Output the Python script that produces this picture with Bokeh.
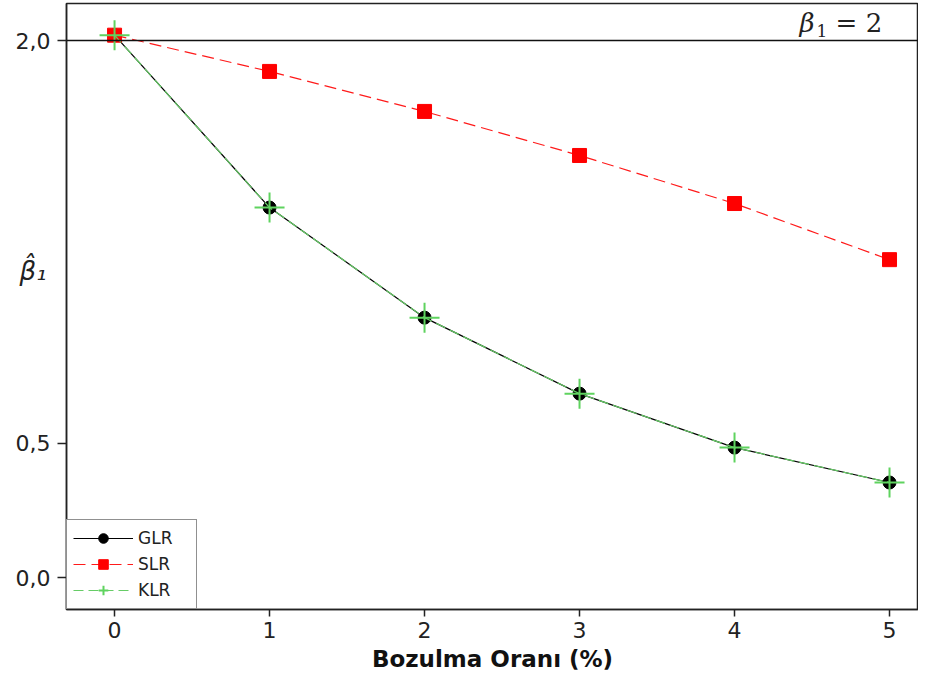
from bokeh.plotting import figure
from bokeh.models import FixedTicker, Span, Label, Range1d, Legend, LegendItem
from bokeh.embed import file_html
from bokeh.resources import INLINE

# ---- data ----
rates = [0, 1, 2, 3, 4, 5]
glr = [2.02, 1.378, 0.968, 0.685, 0.484, 0.354]
slr = [2.02, 1.885, 1.736, 1.572, 1.393, 1.184]
klr = [2.02, 1.378, 0.968, 0.685, 0.484, 0.354]
y_ticks = [0.0, 0.5, 2.0]
y_tick_labels = ["0,0", "0,5", "2,0"]
x_ticks = [0, 1, 2, 3, 4, 5]
true_beta = 2.0
x_title = "Bozulma Oranı (%)"
y_title = "β\u0302\u2081"

p = figure(width=918, height=683, output_backend="svg", toolbar_location=None,
           x_range=Range1d(-0.31, 5.187), y_range=Range1d(-0.119, 2.138),
           min_border_left=66, min_border_right=0, min_border_top=3, min_border_bottom=74)
p.grid.visible = False
p.outline_line_color = "#222222"
p.outline_line_width = 1.5
p.background_fill_color = "white"
p.border_fill_color = "white"

# axes
for ax in (p.xaxis[0], p.yaxis[0]):
    ax.axis_line_color = "#222222"
    ax.axis_line_width = 1.5
    ax.major_tick_line_color = "#222222"
    ax.major_tick_line_width = 1.5
    ax.major_tick_in = 0
    ax.minor_tick_line_color = None
    ax.major_label_text_font = "DejaVu Sans"
    ax.major_label_text_font_size = "22px"
    ax.major_label_text_color = "#222222"

p.xaxis.ticker = FixedTicker(ticks=x_ticks)
p.xaxis.major_tick_out = 7
p.xaxis.major_label_standoff = 5
p.xaxis.axis_label = x_title
p.xaxis.axis_label_text_font = "DejaVu Sans"
p.xaxis.axis_label_text_font_style = "bold"
p.xaxis.axis_label_text_font_size = "23px"
p.xaxis.axis_label_text_color = "#111111"
p.xaxis.axis_label_standoff = 5

p.yaxis.ticker = FixedTicker(ticks=y_ticks)
p.yaxis.major_label_overrides = {t: l for t, l in zip(y_ticks, y_tick_labels)}
p.yaxis.major_tick_out = 9
p.yaxis.major_label_standoff = 7
p.yaxis.axis_label = y_title + "\n\n"
p.yaxis.axis_label_orientation = "horizontal"
p.yaxis.axis_label_standoff = -34
p.yaxis.axis_label_text_font = "DejaVu Sans"
p.yaxis.axis_label_text_font_style = "italic"
p.yaxis.axis_label_text_font_size = "26px"
p.yaxis.axis_label_text_color = "#222222"

# reference line at true beta
p.add_layout(Span(location=true_beta, dimension="width", line_color="#111111", line_width=1.5))

# series
r_glr_l = p.line(rates, glr, line_color="black", line_width=1.2)
r_glr_m = p.scatter(rates, glr, marker="circle", size=13, fill_color="black", line_color="black")
r_slr_l = p.line(rates, slr, line_color="#ff1a1a", line_width=1.2, line_dash="12 6")
r_slr_m = p.scatter(rates, slr, marker="square", size=14, fill_color="#ff0000", line_color="#ff0000")
r_klr_l = p.line(rates, klr, line_color="#66cc66", line_width=1.2, line_dash="10 5")
r_klr_m = p.scatter(rates, klr, marker="cross", size=30, line_color="#5fd35f", line_width=2)

legend = Legend(items=[
    LegendItem(label="GLR", renderers=[r_glr_l, r_glr_m]),
    LegendItem(label="SLR", renderers=[r_slr_l, r_slr_m]),
    LegendItem(label="KLR", renderers=[r_klr_l, r_klr_m]),
], location="bottom_left")
legend.margin = 0
legend.padding = 6
legend.spacing = 2
legend.glyph_width = 60
legend.glyph_height = 24
legend.label_width = 52
legend.label_text_font = "DejaVu Sans"
legend.label_text_font_size = "17px"
legend.label_text_color = "#222222"
legend.border_line_color = "#222222"
legend.border_line_width = 1.5
legend.background_fill_alpha = 1
p.add_layout(legend)

# annotation of the true value
p.add_layout(Label(x=4.394, y=2.067, x_offset=4, text="β", text_font="DejaVu Serif",
                   text_font_style="italic", text_font_size="26px",
                   text_baseline="middle", text_color="#222222"))
p.add_layout(Label(x=4.394, y=2.067, x_offset=21, y_offset=-8, text="1", text_font="DejaVu Serif",
                   text_font_size="17px", text_baseline="middle", text_color="#222222"))
p.add_layout(Label(x=4.394, y=2.067, x_offset=40, text="= 2", text_font="DejaVu Serif",
                   text_font_size="26px", text_baseline="middle", text_color="#222222"))

open("out.html", "w").write(file_html(p, INLINE))
